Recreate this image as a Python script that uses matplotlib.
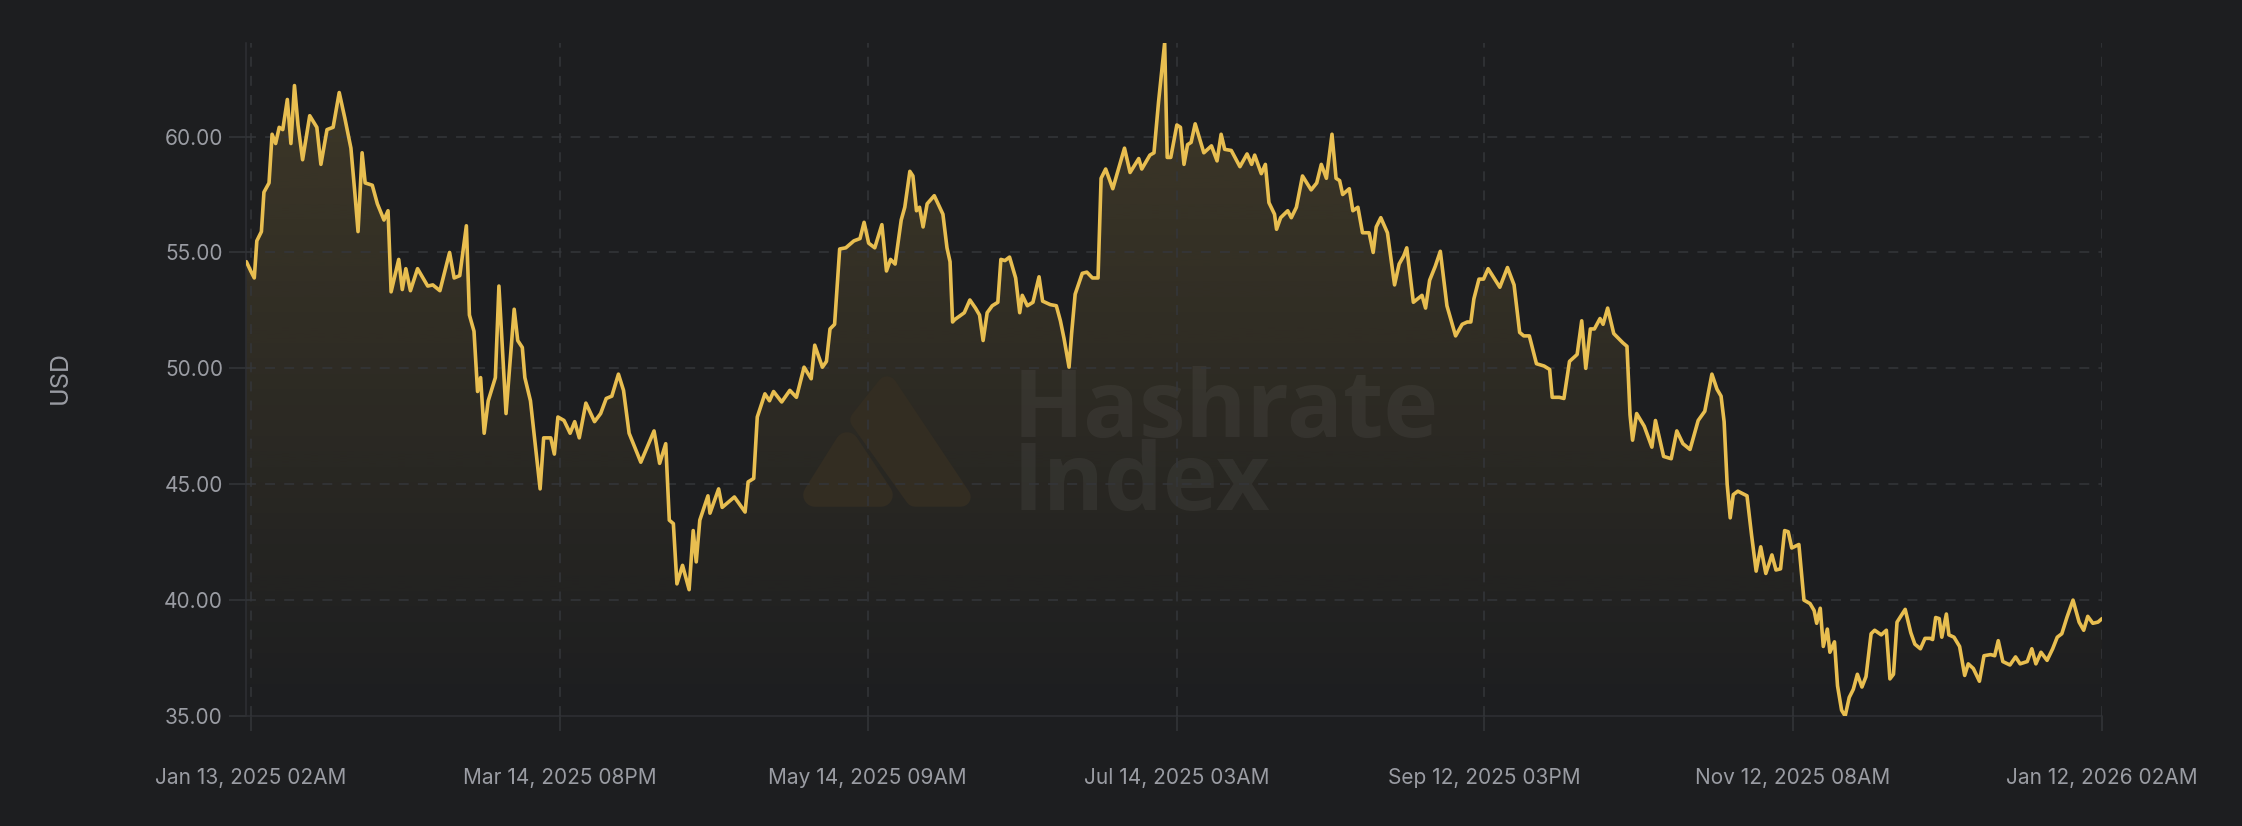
import numpy as np
import matplotlib
matplotlib.use("Agg")
import matplotlib.pyplot as plt
import matplotlib.dates as mdates
from matplotlib.patches import Polygon
from datetime import datetime, timedelta

# Hashprice (USD), sampled at days after Jan 13, 2025 02:00
START = datetime(2025, 1, 13, 2)

days_since_start = [
    -0.85, 0.0, 0.7, 1.2, 2.1, 2.6, 3.6, 4.2, 4.9, 5.6, 6.3, 7.2, 7.9, 8.6, 9.3, 10.2, 11.6, 13.0, 13.8, 15.0,
    16.2, 17.4, 18.5, 19.7, 20.5, 21.1, 21.9, 22.5, 23.9, 24.9, 26.2, 27.0, 27.6, 29.1, 29.8, 30.5, 31.4, 32.8,
    34.8, 35.8, 37.2, 39.1, 40.0, 41.1, 42.4, 43.0, 43.9, 44.6, 45.2, 45.9, 46.7, 48.1, 48.8, 50.2, 51.8, 52.5,
    53.4, 53.9, 55.0, 56.9, 57.6, 59.0, 59.7, 60.4, 61.6, 62.8, 63.7, 64.6, 65.9, 67.6, 68.8, 69.9, 71.0, 72.3,
    73.3, 74.4, 76.7, 79.3, 80.4, 81.6, 82.3, 83.1, 83.8, 84.9, 86.2, 87.0, 87.6, 88.3, 89.9, 90.3, 92.0, 92.7,
    95.1, 97.2, 97.8, 98.9, 99.6, 101.1, 102.0, 102.8, 104.4, 106.0, 107.3, 108.8, 110.2, 110.9, 112.4, 113.2,
    113.9, 114.8, 115.8, 117.0, 118.6, 119.8, 120.6, 121.5, 122.7, 124.1, 125.0, 125.8, 126.7, 127.9, 128.6,
    129.6, 130.2, 130.9, 131.5, 132.2, 133.0, 134.4, 136.1, 136.9, 137.5, 138.0, 138.4, 140.3, 141.4, 142.5,
    143.3, 144.0, 144.8, 145.8, 146.9, 147.5, 148.3, 149.2, 150.4, 151.2, 151.7, 152.7, 153.8, 155.0, 155.7,
    157.2, 158.4, 159.2, 159.9, 160.9, 161.4, 162.1, 163.5, 164.4, 165.5, 166.6, 167.2, 168.1, 169.5, 171.8,
    172.9, 174.6, 175.2, 176.8, 177.6, 178.5, 179.7, 180.2, 180.9, 182.1, 182.8, 183.5, 184.2, 184.9, 185.7,
    187.4, 188.9, 190.0, 190.8, 191.5, 192.8, 194.5, 195.9, 196.8, 197.4, 198.7, 199.5, 200.2, 201.3, 201.7,
    202.5, 203.9, 204.6, 205.6, 206.8, 208.5, 209.6, 210.5, 211.5, 212.6, 213.4, 214.1, 214.7, 216.0, 216.7,
    217.7, 218.6, 219.9, 220.7, 221.3, 222.2, 223.5, 224.9, 225.8, 226.7, 227.3, 228.6, 230.3, 231.0, 231.8,
    232.9, 233.9, 235.2, 236.9, 238.2, 239.2, 239.9, 240.5, 241.5, 242.4, 243.3, 245.6, 247.1, 248.4, 249.5,
    250.3, 251.4, 252.8, 254.3, 255.4, 255.9, 257.3, 258.2, 259.3, 260.8, 261.7, 262.5, 263.4, 264.2, 265.3,
    265.9, 266.8, 268.0, 268.9, 269.8, 270.6, 271.2, 271.7, 272.5, 274.0, 275.5, 276.2, 277.8, 279.3, 280.4,
    281.6, 283.0, 284.6, 285.9, 287.3, 288.3, 289.1, 289.7, 290.3, 290.9, 291.5, 292.4, 294.2, 295.1, 296.0,
    296.9, 297.9, 299.1, 299.9, 300.8, 301.6, 302.3, 303.0, 304.4, 305.4, 306.6, 307.4, 307.9, 308.6, 309.2,
    310.0, 310.5, 311.4, 312.0, 312.8, 313.5, 314.3, 315.1, 315.9, 316.8, 317.6, 318.6, 319.3, 320.6, 321.6,
    322.3, 323.0, 323.7, 325.3, 326.4, 327.2, 328.3, 329.2, 330.2, 330.7, 331.3, 332.0, 332.5, 333.4, 333.9,
    334.9, 336.0, 337.0, 337.7, 338.7, 339.9, 340.8, 342.1, 342.9, 343.6, 344.5, 345.9, 347.0, 347.9, 349.3,
    350.2, 351.0, 352.0, 353.2, 354.3, 355.2, 356.1, 357.1, 358.3, 359.5, 360.4, 361.2, 362.2, 363.2, 364.0,
]

usd = [
    54.6, 54.2, 53.9, 55.5, 55.9, 57.6, 58.0, 60.1, 59.7, 60.4, 60.3, 61.6, 59.7, 62.2, 60.5, 59.0, 60.9, 60.4, 58.8, 60.3,
    60.4, 61.9, 60.8, 59.5, 57.5, 55.9, 59.3, 58.0, 57.9, 57.1, 56.4, 56.8, 53.3, 54.7, 53.4, 54.3, 53.35, 54.3,
    53.55, 53.6, 53.35, 55.0, 53.9, 54.0, 56.15, 52.3, 51.6, 49.0, 49.6, 47.2, 48.6, 49.6, 53.55, 48.05, 52.55, 51.2,
    50.9, 49.6, 48.6, 44.8, 47.0, 47.0, 46.3, 47.9, 47.75, 47.2, 47.7, 47.0, 48.5, 47.7, 48.05, 48.7, 48.8, 49.75,
    49.05, 47.2, 45.95, 47.3, 45.9, 46.75, 43.45, 43.3, 40.7, 41.5, 40.45, 43.0, 41.65, 43.45, 44.5, 43.75, 44.8, 44.0,
    44.45, 43.8, 45.1, 45.25, 47.9, 48.9, 48.6, 49.0, 48.55, 49.05, 48.75, 50.05, 49.55, 51.0, 50.05, 50.3,
    51.7, 51.9, 55.15, 55.2, 55.5, 55.6, 56.3, 55.4, 55.2, 56.2, 54.2, 54.7, 54.5, 56.4, 56.95,
    58.5, 58.3, 56.8, 56.95, 56.1, 57.1, 57.45, 56.65, 55.2, 54.6, 52.0, 52.1, 52.4, 52.95, 52.6,
    52.3, 51.2, 52.4, 52.7, 52.85, 54.7, 54.65, 54.8, 53.9, 52.4, 53.15, 52.7, 52.85, 53.95, 52.9,
    52.75, 52.7, 52.05, 51.3, 50.05, 51.5, 53.2, 54.1, 54.15, 53.9, 53.9, 58.2, 58.6, 57.75, 59.5,
    58.45, 59.05, 58.6, 59.2, 59.3, 61.5, 64.05, 59.1, 59.1, 60.5, 60.4, 58.8, 59.65, 59.75, 60.55,
    59.3, 59.6, 58.95, 60.1, 59.45, 59.4, 58.7, 59.25, 58.8, 59.2, 58.4, 58.8, 57.15, 56.65, 56.0,
    56.5, 56.8, 56.5, 56.95, 58.3, 57.7, 58.0, 58.8, 58.2, 60.1, 58.2, 58.1, 57.5, 57.75, 56.8,
    56.95, 55.85, 55.85, 55.0, 56.1, 56.5, 55.85, 53.6, 54.5, 54.85, 55.2, 52.85, 53.15, 52.6, 53.8,
    54.4, 55.05, 52.7, 51.4, 51.9, 52.0, 52.0, 53.0, 53.85, 53.85, 54.3, 53.5, 54.35, 53.6, 51.55,
    51.4, 51.4, 50.2, 50.1, 49.95, 48.75, 48.75, 48.7, 50.3, 50.6, 52.05, 50.0, 51.7, 51.7, 52.15,
    51.9, 52.6, 51.5, 51.3, 51.1, 50.95, 48.0, 46.9, 48.05, 47.5, 46.6, 47.75, 46.2, 46.1, 47.3,
    46.75, 46.5, 47.75, 48.15, 49.75, 49.1, 48.8, 47.7, 45.0, 43.55, 44.55, 44.7, 44.5, 42.8, 41.25,
    42.3, 41.15, 41.95, 41.3, 41.35, 43.0, 42.95, 42.25, 42.4, 40.0, 39.85, 39.55, 39.0, 39.65, 38.0,
    38.75, 37.75, 38.2, 36.3, 35.25, 35.0, 35.8, 36.15, 36.8, 36.25, 36.7, 38.55, 38.7, 38.5, 38.7,
    36.6, 36.8, 39.05, 39.6, 38.6, 38.1, 37.9, 38.35, 38.35, 38.3, 39.25, 39.2, 38.4, 39.4, 38.5,
    38.4, 38.0, 36.75, 37.25, 37.05, 36.5, 37.6, 37.65, 37.6, 38.25, 37.35, 37.2, 37.55, 37.25, 37.35,
    37.9, 37.25, 37.75, 37.4, 37.9, 38.4, 38.55, 39.25, 40.0, 39.05, 38.7, 39.3, 39.0, 39.05, 39.2,
]

tick_dates = [
    datetime(2025, 1, 13, 2), datetime(2025, 3, 14, 20), datetime(2025, 5, 14, 9),
    datetime(2025, 7, 14, 3), datetime(2025, 9, 12, 15), datetime(2025, 11, 12, 8),
    datetime(2026, 1, 12, 2),
]
tick_labels = [
    "Jan 13, 2025 02AM", "Mar 14, 2025 08PM", "May 14, 2025 09AM", "Jul 14, 2025 03AM",
    "Sep 12, 2025 03PM", "Nov 12, 2025 08AM", "Jan 12, 2026 02AM",
]
y_ticks = [35, 40, 45, 50, 55, 60]

BG = "#1d1e20"
GOLD = "#e8be50"
GRID = "#34363a"
SPINE = "#2e3034"
LABEL = "#9a9ca3"

plt.rcParams["font.family"] = ["Inter", "DejaVu Sans"]

W_PX, H_PX = 2242, 826
fig = plt.figure(figsize=(W_PX / 100, H_PX / 100), dpi=100, facecolor=BG)
ax = fig.add_axes([246.4 / W_PX, 1 - 716 / H_PX, (2102 - 246.4) / W_PX, (716 - 42.7) / H_PX])
ax.set_facecolor(BG)

x = mdates.date2num([START + timedelta(days=d) for d in days_since_start])
y_lo, y_hi = 35, max(usd)

# gradient area under the line
area = ax.fill_between(x, usd, y_lo, facecolor="none", edgecolor="none")
grad = np.zeros((256, 1, 4))
grad[:, 0, :3] = matplotlib.colors.to_rgb(GOLD)
grad[:, 0, 3] = np.linspace(0.17, 0.0, 256)
im = ax.imshow(grad, extent=[x[0], x[-1], y_lo, y_hi], aspect="auto", origin="upper",
               interpolation="bilinear", zorder=1)
im.set_clip_path(area.get_paths()[0], transform=ax.transData)

ax.plot(x, usd, color=GOLD, lw=2.6, zorder=5, solid_joinstyle="round", solid_capstyle="round")

# dashed grid
for yv in y_ticks[1:]:
    ax.axhline(yv, color=GRID, lw=1.1, ls=(0, (6.5, 6)), zorder=3)
for td in tick_dates:
    ax.axvline(mdates.date2num(td), color=GRID, lw=1.1, ls=(0, (6.5, 6)), zorder=3)

ax.set_xlim(x[0], x[-1])
ax.set_ylim(y_lo, y_hi)

ax.set_xticks(mdates.date2num(tick_dates))
ax.set_xticklabels(tick_labels)
ax.set_yticks(y_ticks)
ax.set_yticklabels([f"{v:.2f}" for v in y_ticks])
ax.tick_params(axis="x", length=10.8, width=1.1, color=GRID, pad=27, labelcolor=LABEL, labelsize=15)
ax.tick_params(axis="y", length=12.6, width=1.1, color=GRID, pad=4.3, labelcolor=LABEL, labelsize=15)

for side in ["top", "right"]:
    ax.spines[side].set_visible(False)
for side in ["left", "bottom"]:
    ax.spines[side].set_color(SPINE)
    ax.spines[side].set_linewidth(1.1)

fig.text(60.7 / W_PX, 1 - 378 / H_PX, "USD", rotation=90, ha="center", va="center",
         color=LABEL, fontsize=18)

# watermark
def px(pts):
    return [(a / W_PX, 1 - b / H_PX) for a, b in pts]

logo_col = "#332d22"
small_tri = Polygon(px([(847, 444), (815, 495), (881, 495)]), closed=True, transform=fig.transFigure,
                    facecolor=logo_col, edgecolor=logo_col, lw=17, joinstyle="round", zorder=2)
big_tri = Polygon(px([(887, 386), (961, 497), (915, 497), (860, 420)]), closed=True,
                  transform=fig.transFigure, facecolor=logo_col, edgecolor=logo_col, lw=14,
                  joinstyle="round", zorder=2)
ax.add_artist(small_tri)
ax.add_artist(big_tri)
ax.text(1013 / W_PX, 1 - 366 / H_PX, "Hashrate\nIndex", transform=fig.transFigure, fontsize=67,
        family="Open Sans", fontweight="bold", color="white", alpha=0.05, ha="left", va="top",
        linespacing=0.72, zorder=2)

fig.savefig("out.png", dpi=100, facecolor=BG)
